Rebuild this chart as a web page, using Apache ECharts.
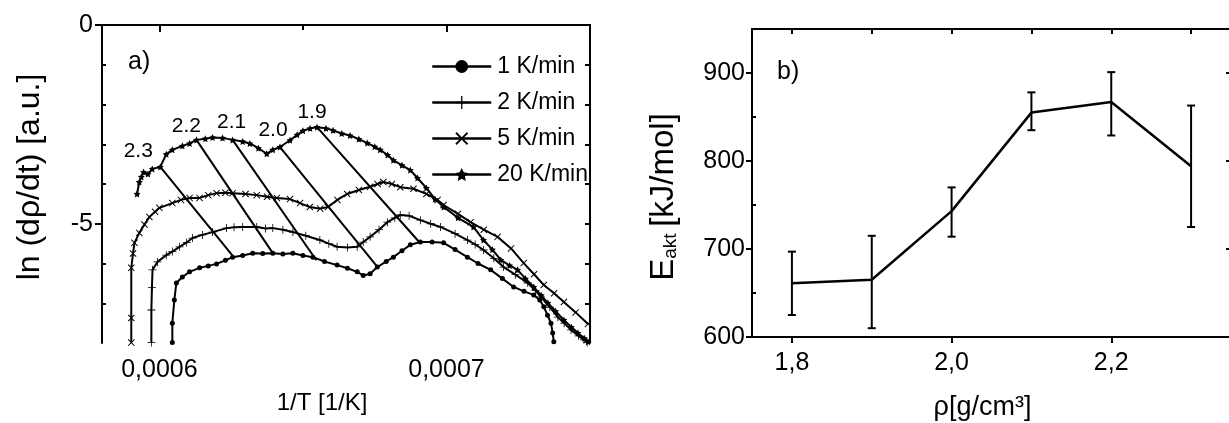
<!DOCTYPE html>
<html><head><meta charset="utf-8">
<script src="https://cdn.jsdelivr.net/npm/echarts@6/dist/echarts.min.js"></script>
<style>html,body{margin:0;padding:0;background:#fff}#c{width:1229px;height:423px}</style>
</head><body><div id="c"></div><script>
// ---------------- data: panel a ----------------
const seriesNames = ['1 K/min', '2 K/min', '5 K/min', '20 K/min'];
const xTicksA = [0.0006, 0.0007];
const xTicksTopA = [0.0006, 0.00065, 0.0007];
const yTicksA = [0, -5];
const yMinorA = [-7, -6, -4, -3, -2, -1];
const yRightA = [-7, -6, -5, -4, -3, -2, -1];

const data1K = [
[0.0006045,-7.99],[0.0006045,-7.50],[0.0006052,-6.92],[0.0006059,-6.49],[0.0006080,-6.34],[0.0006105,-6.21],
[0.0006140,-6.11],[0.0006170,-6.06],[0.0006199,-6.01],[0.0006230,-5.92],[0.0006255,-5.84],[0.0006290,-5.80],
[0.0006325,-5.74],[0.0006360,-5.75],[0.0006395,-5.74],[0.0006430,-5.76],[0.0006465,-5.74],[0.0006500,-5.80],
[0.0006535,-5.84],[0.0006575,-5.95],[0.0006619,-6.04],[0.0006655,-6.12],[0.0006689,-6.21],[0.0006710,-6.30],
[0.0006734,-6.26],[0.0006759,-6.09],[0.0006790,-5.95],[0.0006815,-5.84],[0.0006845,-5.68],[0.0006874,-5.53],
[0.0006909,-5.46],[0.0006950,-5.46],[0.0006990,-5.48],[0.0007030,-5.65],[0.0007073,-5.84],[0.0007110,-6.00],
[0.0007154,-6.16],[0.0007195,-6.38],[0.0007234,-6.59],[0.0007270,-6.70],[0.0007304,-6.79],[0.0007325,-6.92],
[0.0007339,-7.09],[0.0007352,-7.30],[0.0007364,-7.50],[0.0007370,-7.75],[0.0007374,-7.97]];

const data2K = [
[0.0005972,-7.99],[0.0005972,-7.17],[0.0005974,-6.60],[0.0005976,-6.16],[0.0005993,-5.96],[0.0006024,-5.79],
[0.0006045,-5.70],[0.0006070,-5.58],[0.0006095,-5.47],[0.0006115,-5.36],[0.0006150,-5.28],[0.0006185,-5.21],
[0.0006234,-5.11],[0.0006260,-5.09],[0.0006290,-5.08],[0.0006339,-5.08],[0.0006370,-5.12],[0.0006395,-5.11],
[0.0006430,-5.15],[0.0006465,-5.21],[0.0006510,-5.30],[0.0006559,-5.41],[0.0006590,-5.50],[0.0006619,-5.58],
[0.0006655,-5.60],[0.0006689,-5.58],[0.0006710,-5.46],[0.0006734,-5.33],[0.0006765,-5.15],[0.0006794,-4.96],
[0.0006820,-4.85],[0.0006839,-4.78],[0.0006870,-4.80],[0.0006909,-4.91],[0.0006945,-5.00],[0.0006979,-5.08],
[0.0007030,-5.25],[0.0007073,-5.41],[0.0007100,-5.52],[0.0007129,-5.66],[0.0007165,-5.87],[0.0007199,-6.09],
[0.0007240,-6.28],[0.0007283,-6.49],[0.0007310,-6.68],[0.0007329,-6.84],[0.0007360,-7.10],[0.0007388,-7.35],
[0.0007410,-7.50],[0.0007434,-7.67],[0.0007460,-7.82],[0.0007479,-7.92],[0.0007490,-7.99]];

const data5K = [
[0.0005902,-7.99],[0.0005902,-7.37],[0.0005902,-6.11],[0.0005908,-5.75],[0.0005913,-5.48],[0.0005930,-5.23],
[0.0005948,-5.02],[0.0005965,-4.83],[0.0005985,-4.70],[0.0006000,-4.60],[0.0006045,-4.48],[0.0006075,-4.40],
[0.0006105,-4.35],[0.0006140,-4.35],[0.0006170,-4.28],[0.0006199,-4.23],[0.0006230,-4.22],[0.0006255,-4.23],
[0.0006300,-4.25],[0.0006339,-4.28],[0.0006375,-4.32],[0.0006409,-4.35],[0.0006455,-4.38],[0.0006490,-4.48],
[0.0006524,-4.58],[0.0006560,-4.62],[0.0006587,-4.58],[0.0006620,-4.40],[0.0006654,-4.25],[0.0006695,-4.15],
[0.0006734,-4.07],[0.0006760,-4.00],[0.0006780,-3.95],[0.0006810,-4.00],[0.0006839,-4.08],[0.0006885,-4.12],
[0.0006930,-4.25],[0.0006969,-4.40],[0.0006990,-4.53],[0.0007040,-4.75],[0.0007084,-4.96],[0.0007130,-5.15],
[0.0007178,-5.33],[0.0007225,-5.62],[0.0007269,-5.99],[0.0007305,-6.27],[0.0007339,-6.54],[0.0007375,-6.75],
[0.0007409,-6.97],[0.0007450,-7.23],[0.0007493,-7.52]];

const data20K = [
[0.0005922,-4.25],[0.0005930,-3.95],[0.0005937,-3.82],[0.0005945,-3.70],[0.0005960,-3.75],[0.0005975,-3.62],
[0.0006003,-3.57],[0.0006024,-3.25],[0.0006045,-3.14],[0.0006080,-3.04],[0.0006105,-2.98],[0.0006129,-2.89],
[0.0006160,-2.86],[0.0006185,-2.83],[0.0006220,-2.84],[0.0006255,-2.89],[0.0006290,-2.93],[0.0006315,-2.98],
[0.0006345,-3.10],[0.0006374,-3.24],[0.0006395,-3.14],[0.0006420,-3.07],[0.0006455,-2.90],[0.0006480,-2.76],
[0.0006500,-2.66],[0.0006525,-2.60],[0.0006549,-2.57],[0.0006580,-2.60],[0.0006605,-2.65],[0.0006635,-2.73],
[0.0006664,-2.78],[0.0006695,-2.87],[0.0006724,-2.97],[0.0006750,-3.06],[0.0006769,-3.14],[0.0006795,-3.27],
[0.0006815,-3.40],[0.0006845,-3.53],[0.0006874,-3.65],[0.0006899,-3.85],[0.0006930,-4.10],[0.0006960,-4.38],
[0.0006990,-4.58],[0.0007040,-4.85],[0.0007094,-5.08],[0.0007129,-5.41],[0.0007160,-5.65],[0.0007189,-5.91],
[0.0007220,-6.05],[0.0007248,-6.16],[0.0007275,-6.38],[0.0007304,-6.59],[0.0007330,-6.80],[0.0007353,-6.99],
[0.0007380,-7.20],[0.0007409,-7.42],[0.0007435,-7.60],[0.0007458,-7.75],[0.0007480,-7.88],[0.0007493,-7.97]];

// iso-conversion lines (rho labels), start and end points
const isoLabels = ['2.3', '2.2', '2.1', '2.0', '1.9'];
const isoStart = [[0.0006003,-3.57],[0.0006129,-2.89],[0.0006255,-2.89],[0.0006420,-3.07],[0.0006549,-2.57]];
const isoEnd   = [[0.0006257,-5.82],[0.0006395,-5.74],[0.0006545,-5.90],[0.0006760,-6.09],[0.0006905,-5.46]];

// ---------------- data: panel b ----------------
const rho   = [1.8, 1.9, 2.0, 2.1, 2.2, 2.3];
const eAkt  = [661, 665, 743, 855, 867, 794];
const eLow  = [625, 610, 714, 835, 829, 725];
const eHigh = [697, 715, 770, 878, 901, 863];
const rhoTicks = [1.8, 2.0, 2.2];
const rhoTicksTop = [1.8, 1.9, 2.0, 2.1, 2.2, 2.3];
const eTicks = [600, 700, 800, 900];
const eMinor = [650, 750, 850];

// ---------------- styling ----------------
const FF = '"Liberation Sans", Arial, sans-serif';
const BLACK = '#000';
const isoLabelOffset = [[-22,-16],[-10,-14],[-1,-18],[-7,-17],[-5,-15]];

const SYM_PLUS = 'path://M-1,-10L1,-10L1,-1L10,-1L10,1L1,1L1,10L-1,10L-1,1L-10,1L-10,-1L-1,-1Z';
const SYM_X = 'path://M-8,-10L0,-2L8,-10L10,-8L2,0L10,8L8,10L0,2L-8,10L-10,8L-2,0L-10,-8Z';
const SYM_STAR = 'path://M0,-10L2.94,-4.05L9.51,-3.09L4.76,1.55L5.88,8.09L0,5L-5.88,8.09L-4.76,1.55L-9.51,-3.09L-2.94,-4.05Z';

const axLine = {show: true, lineStyle: {color: BLACK, width: 2}};
const tickStyle = {color: BLACK, width: 2};
function plainAxis(extra) {
  return Object.assign({type: 'value', splitLine: {show: false}, axisLine: axLine,
    axisLabel: {show: false}, axisPointer: {show: false}, nameMoveOverlap: false}, extra);
}
const xMinA = 0.00058, xMaxA = 0.00075, yMinA = -8, yMaxA = 0;
const xMinB = 1.75, xMaxB = 2.35, yMinB = 600, yMaxB = 950;

const chart = echarts.init(document.getElementById('c'), null, {renderer: 'canvas'});

const curveSeries = [
  {name: seriesNames[0], data: data1K, symbol: 'circle', symbolSize: 5},
  {name: seriesNames[1], data: data2K, symbol: SYM_PLUS, symbolSize: 8},
  {name: seriesNames[2], data: data5K, symbol: SYM_X, symbolSize: 7},
  {name: seriesNames[3], data: data20K, symbol: SYM_STAR, symbolSize: 7}
].map(s => Object.assign({type: 'line', xAxisIndex: 0, yAxisIndex: 0, showSymbol: true,
  lineStyle: {color: BLACK, width: 2}, itemStyle: {color: BLACK}, z: 3,
  emphasis: {disabled: true}}, s));

const isoSeries = isoLabels.map((lab, i) => ({
  type: 'line', xAxisIndex: 0, yAxisIndex: 0, symbol: 'circle', symbolSize: 2,
  lineStyle: {color: BLACK, width: 2}, itemStyle: {color: BLACK}, z: 4,
  emphasis: {disabled: true},
  data: [
    {value: isoStart[i], label: {show: true, position: 'inside', formatter: lab,
      offset: isoLabelOffset[i], color: BLACK, fontFamily: FF, fontSize: 21}},
    {value: isoEnd[i]}
  ]
}));

const option = {
  animation: false,
  backgroundColor: '#fff',
  title: [
    {text: 'a)', left: 123, top: 45, padding: 5, textStyle: {color: BLACK, fontFamily: FF, fontSize: 25, fontWeight: 'normal'}},
    {text: 'b)', left: 772, top: 55, padding: 5, textStyle: {color: BLACK, fontFamily: FF, fontSize: 25, fontWeight: 'normal'}}
  ],
  legend: {
    data: seriesNames, orient: 'vertical', left: 426, top: 50,
    itemWidth: 59, itemHeight: 16, itemGap: 13,
    lineStyle: {width: 2.5, color: BLACK},
    textStyle: {color: BLACK, fontFamily: FF, fontSize: 23, lineHeight: 22, padding: [0, 0, 0, 1]},
    selectedMode: false
  },
  grid: [
    {left: 102, right: 639, top: 25, bottom: 80, outerBoundsMode: 'none', containLabel: false},
    {left: 752, right: -2, top: 29, bottom: 86, outerBoundsMode: 'none', containLabel: false}
  ],
  xAxis: [
    plainAxis({gridIndex: 0, position: 'bottom', min: xMinA, max: xMaxA,
      axisTick: {show: true, inside: false, length: 7, lineStyle: tickStyle, customValues: xTicksA},
      axisLabel: {show: true, customValues: xTicksA, margin: 15, color: BLACK, fontFamily: FF, fontSize: 25,
        formatter: v => v.toFixed(4).replace('.', ',')},
      name: '1/T [1/K]', nameLocation: 'middle', nameGap: 48,
      nameTextStyle: {color: BLACK, fontFamily: FF, fontSize: 24, padding: [0, 48, 0, 0]}}),
    plainAxis({gridIndex: 0, position: 'top', min: xMinA, max: xMaxA,
      axisTick: {show: true, inside: true, length: 5, lineStyle: tickStyle, customValues: xTicksTopA}}),
    plainAxis({gridIndex: 1, position: 'bottom', min: xMinB, max: xMaxB,
      axisTick: {show: true, inside: false, length: 6, lineStyle: tickStyle, customValues: rhoTicks},
      axisLabel: {show: true, customValues: rhoTicks, margin: 14, color: BLACK, fontFamily: FF, fontSize: 25,
        formatter: v => v.toFixed(1).replace('.', ',')},
      name: 'ρ[g/cm³]', nameLocation: 'middle', nameGap: 57,
      nameTextStyle: {color: BLACK, fontFamily: FF, fontSize: 27, padding: [0, 18, 0, 0]}}),
    plainAxis({gridIndex: 1, position: 'top', min: xMinB, max: xMaxB,
      axisTick: {show: true, inside: true, length: 5, lineStyle: tickStyle, customValues: rhoTicksTop}})
  ],
  yAxis: [
    plainAxis({gridIndex: 0, position: 'left', min: yMinA, max: yMaxA,
      axisTick: {show: true, inside: false, length: 7, lineStyle: tickStyle, customValues: yTicksA},
      axisLabel: {show: true, customValues: yTicksA, margin: 9, color: BLACK, fontFamily: FF, fontSize: 25,
        formatter: v => String(v)},
      name: 'ln (dρ/dt) [a.u.]', nameLocation: 'middle', nameGap: 56,
      nameTextStyle: {color: BLACK, fontFamily: FF, fontSize: 32, padding: [0, 0, 0, 14]}}),
    plainAxis({gridIndex: 0, position: 'right', min: yMinA, max: yMaxA,
      axisTick: {show: true, inside: true, length: 5, lineStyle: tickStyle, customValues: yRightA}}),
    plainAxis({gridIndex: 0, position: 'left', min: yMinA, max: yMaxA, axisLine: {show: false},
      axisTick: {show: true, inside: true, length: 4, lineStyle: tickStyle, customValues: yMinorA}}),
    plainAxis({gridIndex: 1, position: 'left', min: yMinB, max: yMaxB,
      axisTick: {show: true, inside: false, length: 6, lineStyle: tickStyle, customValues: eTicks},
      axisLabel: {show: true, customValues: eTicks, margin: 7, color: BLACK, fontFamily: FF, fontSize: 25,
        formatter: v => String(v)},
      name: '{e|E}{s|akt}  {e|[kJ/mol]}', nameLocation: 'middle', nameGap: 72,
      nameTextStyle: {color: BLACK, fontFamily: FF, padding: [0, 28, 0, 0],
        rich: {
          e: {fontFamily: FF, fontSize: 33, lineHeight: 49, verticalAlign: 'bottom', color: BLACK},
          s: {fontFamily: FF, fontSize: 19, lineHeight: 19, verticalAlign: 'bottom', color: BLACK}
        }}}),
    plainAxis({gridIndex: 1, position: 'right', min: yMinB, max: yMaxB,
      axisTick: {show: true, inside: true, length: 5, lineStyle: tickStyle, customValues: eTicks}}),
    plainAxis({gridIndex: 1, position: 'left', min: yMinB, max: yMaxB, axisLine: {show: false},
      axisTick: {show: true, inside: true, length: 4, lineStyle: tickStyle, customValues: eMinor}})
  ],
  series: [
    ...curveSeries,
    ...isoSeries,
    {
      type: 'line', name: 'Eakt', xAxisIndex: 2, yAxisIndex: 3, symbol: 'none',
      lineStyle: {color: BLACK, width: 2.5}, emphasis: {disabled: true},
      data: rho.map((r, i) => [r, eAkt[i]])
    },
    {
      type: 'custom', name: 'err', xAxisIndex: 2, yAxisIndex: 3,
      encode: {x: 0, y: [1, 2]},
      data: rho.map((r, i) => [r, eLow[i], eHigh[i]]),
      renderItem: function (params, api) {
        const x = api.value(0);
        const p1 = api.coord([x, api.value(1)]);
        const p2 = api.coord([x, api.value(2)]);
        const w = 4;
        const st = {stroke: BLACK, lineWidth: 2};
        return {type: 'group', children: [
          {type: 'line', shape: {x1: p1[0], y1: p1[1], x2: p2[0], y2: p2[1]}, style: st},
          {type: 'line', shape: {x1: p1[0] - w, y1: p1[1], x2: p1[0] + w, y2: p1[1]}, style: st},
          {type: 'line', shape: {x1: p2[0] - w, y1: p2[1], x2: p2[0] + w, y2: p2[1]}, style: st}
        ]};
      }
    }
  ]
};
chart.setOption(option);
</script></body></html>
